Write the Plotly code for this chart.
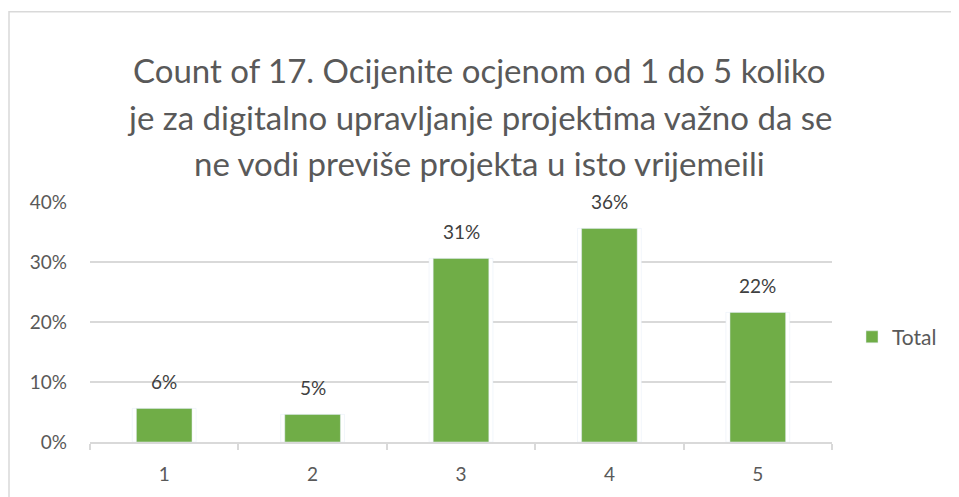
import plotly.graph_objects as go

categories = ["1", "2", "3", "4", "5"]
values = [0.056, 0.046, 0.306, 0.356, 0.216]
labels = ["6%", "5%", "31%", "36%", "22%"]
series_name = "Total"
title_lines = ["Count of 17. Ocijenite ocjenom od 1 do 5 koliko",
               "je za digitalno upravljanje projektima važno da se",
               "ne vodi previše projekta u isto vrijemeili"]
y_ticks = [0, 0.1, 0.2, 0.3, 0.4]
y_ticktext = ["0%", "10%", "20%", "30%", "40%"]

GREEN = "#70AD47"
GRAY = "#595959"
FONT = "Lato"

W, H = 959, 497
OFF = 8  # page body margin offset
# plot area in screen pixels
PX0, PX1, PY0, PY1 = 90, 832, 202, 441.7
L = PX0 - OFF
R = W - (PX1 - OFF)
T = PY0 - OFF
B = H - (PY1 - OFF)
pw = PX1 - PX0
ph = PY1 - PY0


def px(xs):
    return (xs - PX0) / pw


def py(ys):
    return (PY1 - ys) / ph


fig = go.Figure()
# white halo behind bars (breaks gridlines next to bars)
fig.add_trace(go.Bar(x=categories, y=values, width=0.43, marker_color="white",
                     showlegend=False, hoverinfo="skip"))
fig.add_trace(go.Bar(x=categories, y=values, width=0.375, marker_color=GREEN,
                     name=series_name, showlegend=True))

for i, (v, t) in enumerate(zip(values, labels)):
    fig.add_annotation(x=i, y=v, text=t, showarrow=False, yanchor="middle",
                       yshift=27, font=dict(family=FONT, size=19, color="#404040"))

line_centers = [70, 117, 163]
for txt, yc in zip(title_lines, line_centers):
    fig.add_annotation(xref="paper", yref="paper", x=px(479), y=py(yc),
                       text=txt, showarrow=False, xanchor="center", yanchor="middle",
                       font=dict(family=FONT, size=33, color=GRAY))

fig.add_shape(type="rect", xref="paper", yref="paper",
              x0=px(9), x1=px(W + 20), y0=py(H + 20), y1=py(12),
              line=dict(color="#D9D9D9", width=1.5), fillcolor="rgba(0,0,0,0)", layer="below")

fig.update_layout(
    width=W, height=H,
    margin=dict(l=L, r=R, t=T, b=B, autoexpand=False),
    paper_bgcolor="white", plot_bgcolor="white",
    barmode="overlay",
    showlegend=True,
    legend=dict(x=px(852), y=py(337), xanchor="left", yanchor="middle",
                font=dict(family=FONT, size=21, color=GRAY), bgcolor="rgba(0,0,0,0)"),
    font=dict(family=FONT, color=GRAY),
)
fig.update_xaxes(showgrid=False, showline=True, linecolor="#D9D9D9", linewidth=1.5,
                 ticks="outside", tickson="boundaries", ticklen=6, tickcolor="#D9D9D9",
                 tickwidth=1.5, ticklabelstandoff=14, automargin=False,
                 tickfont=dict(family=FONT, size=19, color=GRAY), fixedrange=True)
fig.update_yaxes(range=[0, 0.4], tickvals=y_ticks, ticktext=y_ticktext,
                 showgrid=True, gridcolor="#D9D9D9", gridwidth=1.5, zeroline=False,
                 showline=False, ticks="", ticklabelstandoff=22, automargin=False,
                 tickfont=dict(family=FONT, size=19, color=GRAY), fixedrange=True)

fig.write_html("out.html")
